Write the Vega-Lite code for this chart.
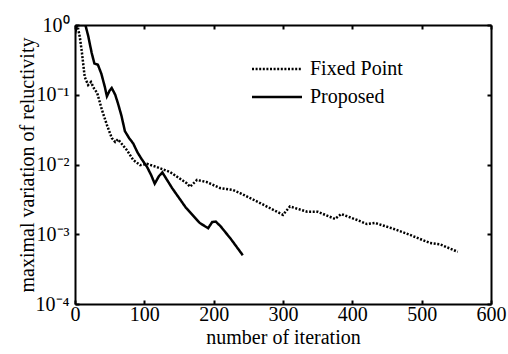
{
  "$schema": "https://vega.github.io/schema/vega-lite/v6.json",
  "autosize": {"type": "none"},
  "width": 416,
  "height": 279,
  "padding": {"left": 75, "top": 25, "right": 17, "bottom": 50},
  "background": "white",
  "config": {
    "view": {"stroke": null},
    "font": "Liberation Serif",
    "axis": {
      "domainColor": "black", "domainWidth": 2,
      "tickColor": "black", "tickWidth": 2, "tickSize": -4,
      "labelFont": "Liberation Serif", "labelFontSize": 20, "labelColor": "black",
      "titleFont": "Liberation Serif", "titleFontSize": 20, "titleFontWeight": "normal", "titleColor": "black",
      "grid": false
    },
    "legend": {
      "labelFont": "Liberation Serif", "labelFontSize": 20, "labelColor": "black"
    }
  },
  "data": {
    "values": [
      {"iter": 0, "v": 0.75, "method": "Proposed"},
      {"iter": 3, "v": 1.0, "method": "Proposed"},
      {"iter": 15, "v": 1.0, "method": "Proposed"},
      {"iter": 19, "v": 0.7, "method": "Proposed"},
      {"iter": 24, "v": 0.4, "method": "Proposed"},
      {"iter": 28, "v": 0.28, "method": "Proposed"},
      {"iter": 33, "v": 0.27, "method": "Proposed"},
      {"iter": 38, "v": 0.2, "method": "Proposed"},
      {"iter": 43, "v": 0.13, "method": "Proposed"},
      {"iter": 46, "v": 0.095, "method": "Proposed"},
      {"iter": 50, "v": 0.115, "method": "Proposed"},
      {"iter": 53, "v": 0.125, "method": "Proposed"},
      {"iter": 58, "v": 0.1, "method": "Proposed"},
      {"iter": 62, "v": 0.075, "method": "Proposed"},
      {"iter": 67, "v": 0.05, "method": "Proposed"},
      {"iter": 72, "v": 0.03, "method": "Proposed"},
      {"iter": 78, "v": 0.024, "method": "Proposed"},
      {"iter": 84, "v": 0.02, "method": "Proposed"},
      {"iter": 90, "v": 0.015, "method": "Proposed"},
      {"iter": 96, "v": 0.012, "method": "Proposed"},
      {"iter": 104, "v": 0.0092, "method": "Proposed"},
      {"iter": 110, "v": 0.007, "method": "Proposed"},
      {"iter": 115, "v": 0.0053, "method": "Proposed"},
      {"iter": 121, "v": 0.0068, "method": "Proposed"},
      {"iter": 126, "v": 0.0077, "method": "Proposed"},
      {"iter": 140, "v": 0.0046, "method": "Proposed"},
      {"iter": 160, "v": 0.0024, "method": "Proposed"},
      {"iter": 180, "v": 0.00145, "method": "Proposed"},
      {"iter": 192, "v": 0.00122, "method": "Proposed"},
      {"iter": 198, "v": 0.0015, "method": "Proposed"},
      {"iter": 203, "v": 0.00152, "method": "Proposed"},
      {"iter": 210, "v": 0.0013, "method": "Proposed"},
      {"iter": 225, "v": 0.00085, "method": "Proposed"},
      {"iter": 242, "v": 0.0005, "method": "Proposed"},
      {"iter": 1, "v": 1.0, "method": "Fixed Point"},
      {"iter": 4, "v": 0.94, "method": "Fixed Point"},
      {"iter": 7, "v": 0.67, "method": "Fixed Point"},
      {"iter": 10, "v": 0.4, "method": "Fixed Point"},
      {"iter": 14, "v": 0.18, "method": "Fixed Point"},
      {"iter": 19, "v": 0.138, "method": "Fixed Point"},
      {"iter": 23, "v": 0.152, "method": "Fixed Point"},
      {"iter": 27, "v": 0.125, "method": "Fixed Point"},
      {"iter": 32, "v": 0.106, "method": "Fixed Point"},
      {"iter": 39, "v": 0.06, "method": "Fixed Point"},
      {"iter": 46, "v": 0.037, "method": "Fixed Point"},
      {"iter": 53, "v": 0.024, "method": "Fixed Point"},
      {"iter": 58, "v": 0.021, "method": "Fixed Point"},
      {"iter": 62, "v": 0.023, "method": "Fixed Point"},
      {"iter": 75, "v": 0.016, "method": "Fixed Point"},
      {"iter": 84, "v": 0.0116, "method": "Fixed Point"},
      {"iter": 94, "v": 0.0098, "method": "Fixed Point"},
      {"iter": 104, "v": 0.0102, "method": "Fixed Point"},
      {"iter": 118, "v": 0.0092, "method": "Fixed Point"},
      {"iter": 137, "v": 0.0078, "method": "Fixed Point"},
      {"iter": 161, "v": 0.0054, "method": "Fixed Point"},
      {"iter": 166, "v": 0.0048, "method": "Fixed Point"},
      {"iter": 176, "v": 0.006, "method": "Fixed Point"},
      {"iter": 190, "v": 0.0056, "method": "Fixed Point"},
      {"iter": 209, "v": 0.0046, "method": "Fixed Point"},
      {"iter": 228, "v": 0.0043, "method": "Fixed Point"},
      {"iter": 238, "v": 0.0039, "method": "Fixed Point"},
      {"iter": 267, "v": 0.0028, "method": "Fixed Point"},
      {"iter": 300, "v": 0.0019, "method": "Fixed Point"},
      {"iter": 310, "v": 0.0025, "method": "Fixed Point"},
      {"iter": 335, "v": 0.0021, "method": "Fixed Point"},
      {"iter": 350, "v": 0.0021, "method": "Fixed Point"},
      {"iter": 375, "v": 0.00166, "method": "Fixed Point"},
      {"iter": 384, "v": 0.00195, "method": "Fixed Point"},
      {"iter": 407, "v": 0.0016, "method": "Fixed Point"},
      {"iter": 421, "v": 0.0014, "method": "Fixed Point"},
      {"iter": 433, "v": 0.00145, "method": "Fixed Point"},
      {"iter": 459, "v": 0.0012, "method": "Fixed Point"},
      {"iter": 483, "v": 0.00098, "method": "Fixed Point"},
      {"iter": 512, "v": 0.00075, "method": "Fixed Point"},
      {"iter": 526, "v": 0.00072, "method": "Fixed Point"},
      {"iter": 552, "v": 0.00056, "method": "Fixed Point"}
    ]
  },
  "layer": [
    {
      "mark": {"type": "line", "color": "black", "strokeWidth": 2.5, "clip": true},
      "encoding": {
        "x": {"field": "iter", "type": "quantitative", "scale": {"domain": [0, 600], "nice": false},
              "axis": {"orient": "bottom", "values": [0, 100, 200, 300, 400, 500, 600], "title": "number of iteration", "labelPadding": 4, "titlePadding": 3, "labelFlush": false}},
        "y": {"field": "v", "type": "quantitative", "scale": {"type": "log", "domain": [0.0001, 1], "nice": false},
              "axis": {"orient": "left", "values": [0.0001, 0.001, 0.01, 0.1, 1], "title": "maximal variation of reluctivity", "labelPadding": 10, "titlePadding": -2, "labelFlush": false,
                       "labelExpr": "'10' + (round(log(datum.value)/LN10) == 0 ? '⁰' : round(log(datum.value)/LN10) == -1 ? '⁻¹' : round(log(datum.value)/LN10) == -2 ? '⁻²' : round(log(datum.value)/LN10) == -3 ? '⁻³' : '⁻⁴')"}},
        "strokeDash": {"field": "method", "type": "nominal",
                       "scale": {"domain": ["Fixed Point", "Proposed"], "range": [[2, 1.6], [1, 0]]},
                       "legend": {"title": null, "orient": "none", "legendX": 192, "legendY": 34, "symbolType": "M-5,0H5", "symbolSize": 100, "symbolStrokeWidth": 2.5, "symbolStrokeColor": "black", "rowPadding": 8, "labelOffset": 23}}
      }
    },
    {
      "mark": {"type": "line", "opacity": 0},
      "encoding": {
        "x": {"field": "iter", "type": "quantitative", "scale": {"domain": [0, 600], "nice": false},
              "axis": {"orient": "top", "values": [0, 100, 200, 300, 400, 500, 600], "labels": false, "title": null}},
        "y": {"field": "v", "type": "quantitative", "scale": {"type": "log", "domain": [0.0001, 1], "nice": false},
              "axis": {"orient": "right", "values": [0.0001, 0.001, 0.01, 0.1, 1], "labels": false, "title": null}}
      }
    }
  ],
  "resolve": {"axis": {"x": "independent", "y": "independent"}}
}
